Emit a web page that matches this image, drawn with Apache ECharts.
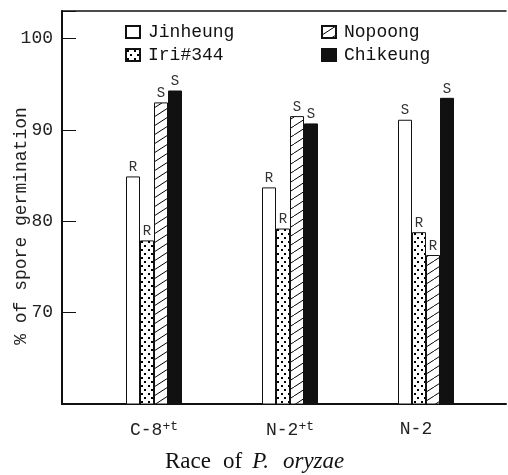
<!DOCTYPE html>
<html><head><meta charset="utf-8">
<script src="https://cdn.jsdelivr.net/npm/echarts@6/dist/echarts.min.js"></script>
<style>html,body{margin:0;padding:0;background:#fff}#c{width:508px;height:475px}</style>
</head><body><div id="c"></div>
<script>
// ---- data ----
const categories = ['C-8+t', 'N-2+t', 'N-2'];
const seriesNames = ['Jinheung', 'Iri#344', 'Nopoong', 'Chikeung'];
const jinheung = [84.9, 83.7, 91.1];
const iri344 = [77.9, 79.2, 78.8];
const nopoong = [93.0, 91.5, 76.3];
const chikeung = [94.3, 90.7, 93.5];
const jinheungMarks = ['R', 'R', 'S'];
const iriMarks = ['R', 'R', 'R'];
const nopoongMarks = ['S', 'S', 'R'];
const chikeungMarks = ['S', 'S', 'S'];
const yMin = 60, yMax = 103, yStep = 10;
const yTitle = '% of spore germination';
const xTitleWords = ['Race', 'of', 'P.', 'oryzae'];

// ---- patterns ----
function dotPattern() {
  const c = document.createElement('canvas'); c.width = 7; c.height = 8;
  const g = c.getContext('2d');
  g.fillStyle = '#fff'; g.fillRect(0, 0, 7, 8);
  g.fillStyle = '#000';
  g.fillRect(1, 1, 2, 2); g.fillRect(4, 5, 2, 2);
  return c;
}
function hatchPattern() {
  const w = 14, h = 9;
  const c = document.createElement('canvas'); c.width = w; c.height = h;
  const g = c.getContext('2d');
  g.fillStyle = '#fff'; g.fillRect(0, 0, w, h);
  g.strokeStyle = '#000'; g.lineWidth = 1;
  g.beginPath();
  g.moveTo(0, h); g.lineTo(w, 0);
  g.moveTo(-w, h); g.lineTo(0, 0);
  g.moveTo(w, h); g.lineTo(2 * w, 0);
  g.stroke();
  return c;
}
const MONO = '"Liberation Mono", "DejaVu Sans Mono", monospace';
const SERIF = '"Liberation Serif", serif';
const fills = ['#fff', {image: dotPattern(), repeat: 'repeat'}, {image: hatchPattern(), repeat: 'repeat'}, '#111'];
const datas = [jinheung, iri344, nopoong, chikeung];
const marks = [jinheungMarks, iriMarks, nopoongMarks, chikeungMarks];

const series = seriesNames.map((name, i) => ({
  name, type: 'bar', xAxisIndex: 1, yAxisIndex: 1, data: datas[i],
  barWidth: 14, barGap: '0%',
  itemStyle: {color: fills[i], borderColor: '#111', borderWidth: 1},
  label: {show: true, position: 'top', distance: 2, formatter: p => marks[i][p.dataIndex],
    fontFamily: MONO, fontSize: 14, color: '#333'}
}));

const legendCommon = {orient: 'vertical', top: 18, itemWidth: 14, itemHeight: 12, itemGap: 5,
  icon: 'rect', textStyle: {fontFamily: MONO, fontSize: 18, color: '#111', padding: [0, 0, 0, 3]}};

const tickAxis = (position, offset, len) => ({gridIndex: 0, type: 'value', min: yMin, max: yMax, interval: yStep,
  position, offset, axisLine: {show: false},
  axisTick: {show: true, length: len, lineStyle: {color: '#111', width: 1}},
  axisLabel: {show: false}, splitLine: {show: false}});

const chart = echarts.init(document.getElementById('c'), null, {renderer: 'canvas'});
chart.setOption({
  backgroundColor: '#fff',
  animation: false,
  legend: [
    Object.assign({left: 120, data: [seriesNames[0], seriesNames[1]]}, legendCommon),
    Object.assign({left: 316, data: [seriesNames[2], seriesNames[3]]}, legendCommon)
  ],
  grid: [
    {left: 62, right: 2, top: 11, bottom: 71},
    {left: 86, right: 14, top: 11, bottom: 71}
  ],
  xAxis: [
    {gridIndex: 0, type: 'value', min: 0, max: 1, position: 'bottom',
      axisLine: {show: true, onZero: false, lineStyle: {color: '#111', width: 2}},
      axisTick: {show: false}, axisLabel: {show: false}, splitLine: {show: false}},
    {gridIndex: 1, type: 'category', data: categories,
      axisLine: {show: false}, axisTick: {show: false}, splitLine: {show: false},
      axisLabel: {interval: 0, hideOverlap: false, margin: 16, fontFamily: MONO, fontSize: 18, color: '#222',
        formatter: v => v.endsWith('+t') ? v.slice(0, -2) + '{sup|+t}' : '{plain|' + v + '}',
        rich: {sup: {fontFamily: MONO, fontSize: 13, color: '#222', verticalAlign: 'top', padding: [0, 0, 8, 0]},
               plain: {fontFamily: MONO, fontSize: 18, color: '#222', padding: [0, 20, 0, 0]}}}},
    {gridIndex: 0, type: 'value', min: 0, max: 1, position: 'top',
      axisLine: {show: true, onZero: false, lineStyle: {color: '#111', width: 1.5}},
      axisTick: {show: false}, axisLabel: {show: false}, splitLine: {show: false}}
  ],
  yAxis: [
    {gridIndex: 0, type: 'value', min: yMin, max: yMax, interval: yStep, position: 'left',
      axisLine: {show: true, onZero: false, lineStyle: {color: '#111', width: 2}},
      axisTick: {show: false},
      axisLabel: {showMinLabel: false, showMaxLabel: false, margin: 9, fontFamily: MONO, fontSize: 18, color: '#222'},
      splitLine: {show: false}},
    {gridIndex: 1, type: 'value', min: yMin, max: yMax, show: false, splitLine: {show: false}},
    tickAxis('right', -7, 7),
    tickAxis('left', -8, 8)
  ],
  graphic: [
    {type: 'text', x: 21, y: 226, rotation: Math.PI / 2,
      style: {text: yTitle, font: '18px ' + MONO, textAlign: 'center', textVerticalAlign: 'middle', fill: '#222'}},
    {type: 'text', x: 165, y: 462,
      style: {text: '{a|' + xTitleWords[0] + '}{b|' + xTitleWords[1] + '}{c|' + xTitleWords[2] + '}{d|' + xTitleWords[3] + '}',
        textVerticalAlign: 'middle', fill: '#111',
        rich: {a: {fontFamily: SERIF, fontSize: 23, fill: '#111'},
               b: {fontFamily: SERIF, fontSize: 23, fill: '#111', padding: [0, 0, 0, 12]},
               c: {fontFamily: SERIF, fontSize: 23, fontStyle: 'italic', fill: '#111', padding: [0, 0, 0, 10]},
               d: {fontFamily: SERIF, fontSize: 23, fontStyle: 'italic', fill: '#111', padding: [0, 0, 0, 14]}}}}
  ],
  series
});
</script></body></html>
